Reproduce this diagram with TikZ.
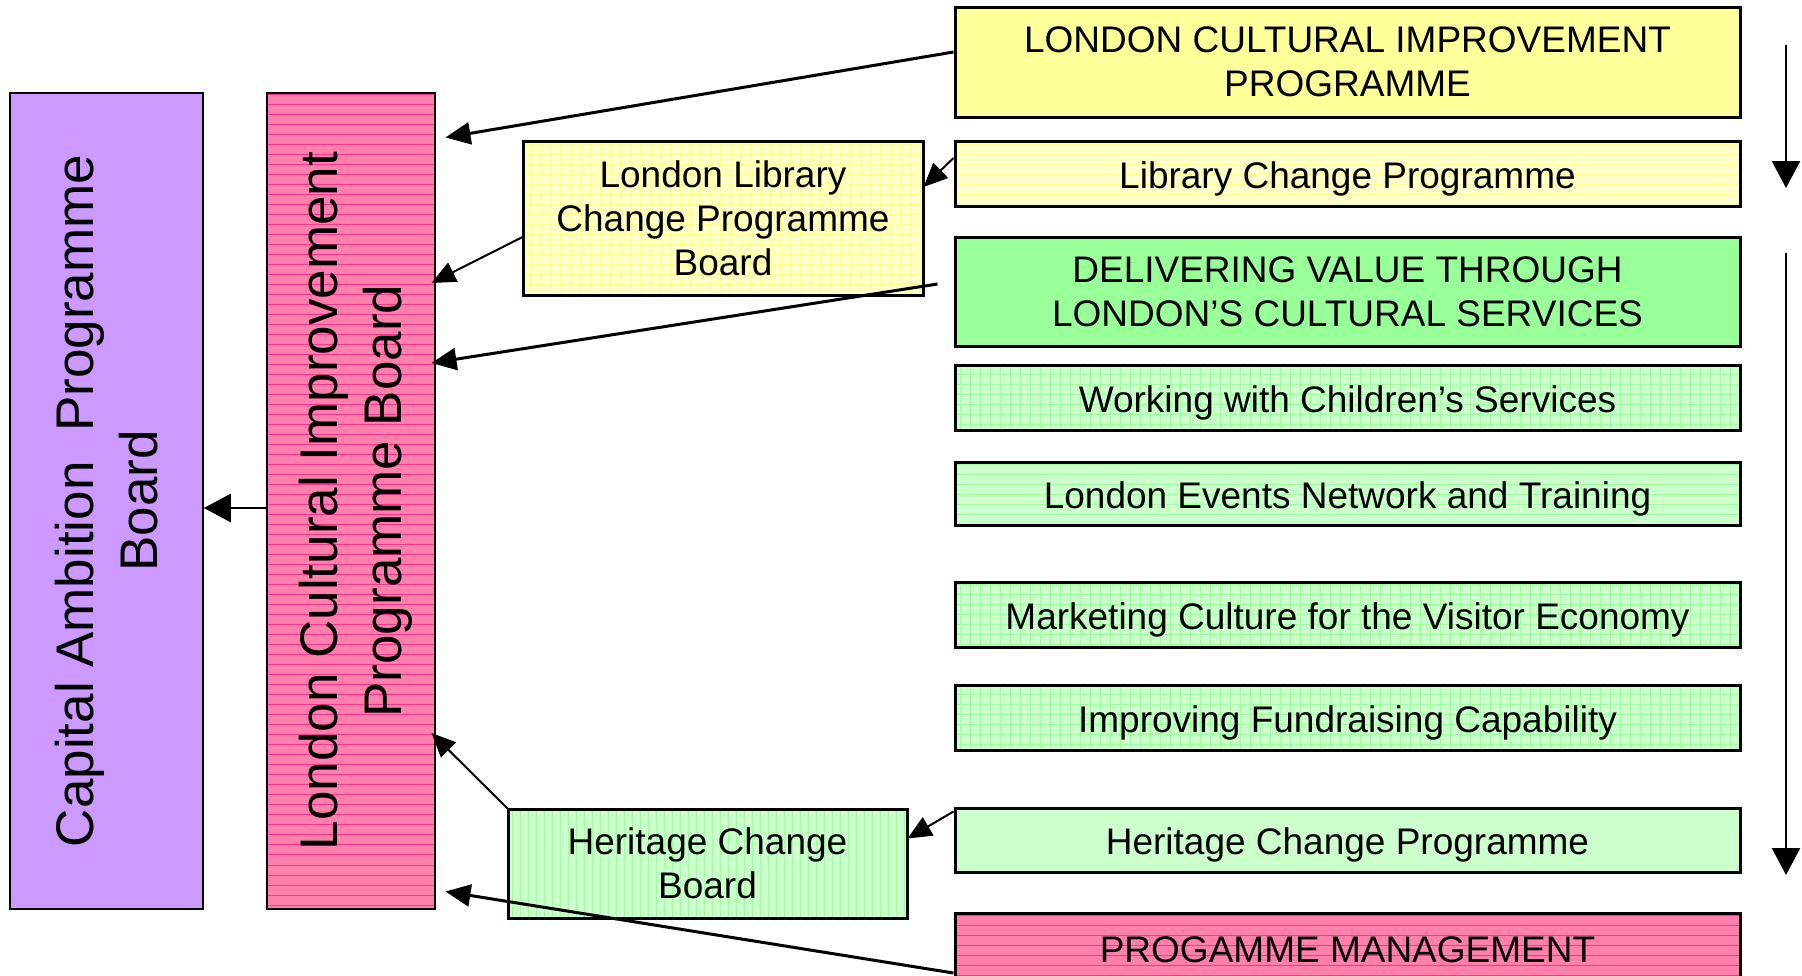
\documentclass[tikz,border=0pt]{standalone}
\usepackage{fontspec}
\usepackage{graphicx}
\setmainfont{Liberation Sans}
\usetikzlibrary{arrows.meta,calc,patterns.meta}

\definecolor{purp}{RGB}{204,153,255}
\definecolor{pinkf}{RGB}{255,128,172}
\definecolor{pinkl}{RGB}{255,50,140}
\definecolor{yel}{RGB}{255,255,153}
\definecolor{pyel}{RGB}{255,255,204}
\definecolor{pyell}{RGB}{255,255,150}
\definecolor{grn}{RGB}{153,255,153}
\definecolor{pgrn}{RGB}{204,255,204}
\definecolor{pgrnl}{RGB}{160,255,160}

\begin{document}
\begin{tikzpicture}[x=1pt,y=-1pt,
  txt/.style={font=\fontsize{37}{44}\selectfont},
  box/.style={draw=black, line width=3pt, inner sep=0pt, align=center, txt},
  oneline/.style={text height=29pt, text depth=0pt},
  vbox/.style={draw=black, line width=1.5pt, inner sep=0pt},
  pinkpat/.style={preaction={fill=pinkf}, pattern={Lines[angle=0,distance=10pt,line width=1pt]}, pattern color=pinkl},
  ylines/.style={preaction={fill=pyel}, pattern={Lines[angle=0,distance=10pt,line width=1pt]}, pattern color=pyell},
  ygrid/.style={preaction={fill=pyel}, pattern={Hatch[angle=0,distance=10pt,line width=1pt]}, pattern color=pyell},
  ggrid/.style={preaction={fill=pgrn}, pattern={Hatch[angle=0,distance=10pt,line width=1pt]}, pattern color=pgrnl},
  glines/.style={preaction={fill=pgrn}, pattern={Lines[angle=0,distance=10pt,line width=1pt]}, pattern color=pgrnl},
  gvlines/.style={preaction={fill=pgrn}, pattern={Lines[angle=90,distance=8pt,line width=1pt]}, pattern color=pgrnl},
  con/.style={line width=3pt, -{Triangle[length=25pt,width=22pt]}},
  thin/.style={line width=2pt, -{Triangle[length=24pt,width=21pt]}},
  flow/.style={line width=2.5pt, -{Triangle[length=27pt,width=28pt]}}
]
\useasboundingbox (0,0) rectangle (1802,975);
\clip (0,0) rectangle (1802,975);

% left vertical boards
\node[vbox, fill=purp, minimum width=193pt, minimum height=816pt] (cap) at (106.5,501)
  {\hspace{12pt}\rotatebox{90}{\fontsize{53}{64}\selectfont\begin{tabular}{@{}c@{}}Capital Ambition\ \ Programme\\Board\end{tabular}}};
\node[vbox, pinkpat, minimum width=168pt, minimum height=816pt] (lcipb) at (351,501)
  {\hspace{12pt}\rotatebox{90}{\fontsize{53}{64}\selectfont\begin{tabular}{@{}c@{}}London Cultural Improvement\\Programme Board\end{tabular}}};

% middle boards
\node[box, ygrid, minimum width=400pt, minimum height=154pt] (llcpb) at (723,218)
  {London Library\\Change Programme\\Board};
\node[box, gvlines, minimum width=399pt, minimum height=109pt] (hcb) at (707.5,863.5)
  {Heritage Change\\Board};

% right programme boxes
\node[box, fill=yel, minimum width=785pt, minimum height=110pt] (lcip) at (1347.5,62)
  {LONDON CULTURAL IMPROVEMENT\\PROGRAMME};
\node[box, oneline, ylines, minimum width=785pt, minimum height=65pt] (lcp) at (1347.5,173.5)
  {Library Change Programme};
\node[box, fill=grn, minimum width=785pt, minimum height=109pt] (dv) at (1347.5,291.5)
  {DELIVERING VALUE THROUGH\\LONDON’S CULTURAL SERVICES};
\node[box, oneline, ggrid, minimum width=785pt, minimum height=65pt] (wcs) at (1347.5,397.5)
  {Working with Children’s Services};
\node[box, oneline, glines, minimum width=785pt, minimum height=63pt] (lent) at (1347.5,493.5)
  {London Events Network and Training};
\node[box, oneline, ggrid, minimum width=785pt, minimum height=65pt] (mcve) at (1347.5,614.5)
  {Marketing Culture for the Visitor Economy};
\node[box, oneline, ggrid, minimum width=785pt, minimum height=65pt] (ifc) at (1347.5,717.5)
  {Improving Fundraising Capability};
\node[box, oneline, fill=pgrn, minimum width=785pt, minimum height=64pt] (hcp) at (1347.5,840)
  {Heritage Change Programme};
\node[box, pinkpat, text height=26pt, text depth=0pt, minimum width=785pt, minimum height=72pt] (pm) at (1347.5,949)
  {PROGAMME MANAGEMENT};

% connectors
\draw[con] ($(lcip.west)+(0,-10)$) -- ($(lcipb.north east)+(10,45)$);
\draw[thin] ($(llcpb.west)+(0,19)$) -- ($(lcipb.east)+(-4,-218)$);
\draw[con] ($(dv.west)+(-16,-7.5)$) -- ($(lcipb.east)+(-4,-138)$);
\draw[thin] ($(lcp.west)+(0,-15.5)$) -- ($(llcpb.east)+(0,-31)$);
\draw[flow] ($(lcipb.west)+(0,7)$) -- ($(cap.east)+(0,7)$);
\draw[thin] (hcb.north west) -- ($(lcipb.east)+(-4,232)$);
\draw[thin] ($(hcp.north west)+(0,5)$) -- ($(hcb.east)+(0,-25)$);
\draw[con] ($(pm.west)+(0,24)$) -- ($(lcipb.south east)+(10,-18)$);

% flow arrows on the right
\coordinate (r1a) at (1786,45);
\coordinate (r1b) at (1786,188);
\coordinate (r2a) at (1786,253);
\coordinate (r2b) at (1786,875);
\draw[flow] (r1a) -- (r1b);
\draw[flow] (r2a) -- (r2b);
\end{tikzpicture}
\end{document}
